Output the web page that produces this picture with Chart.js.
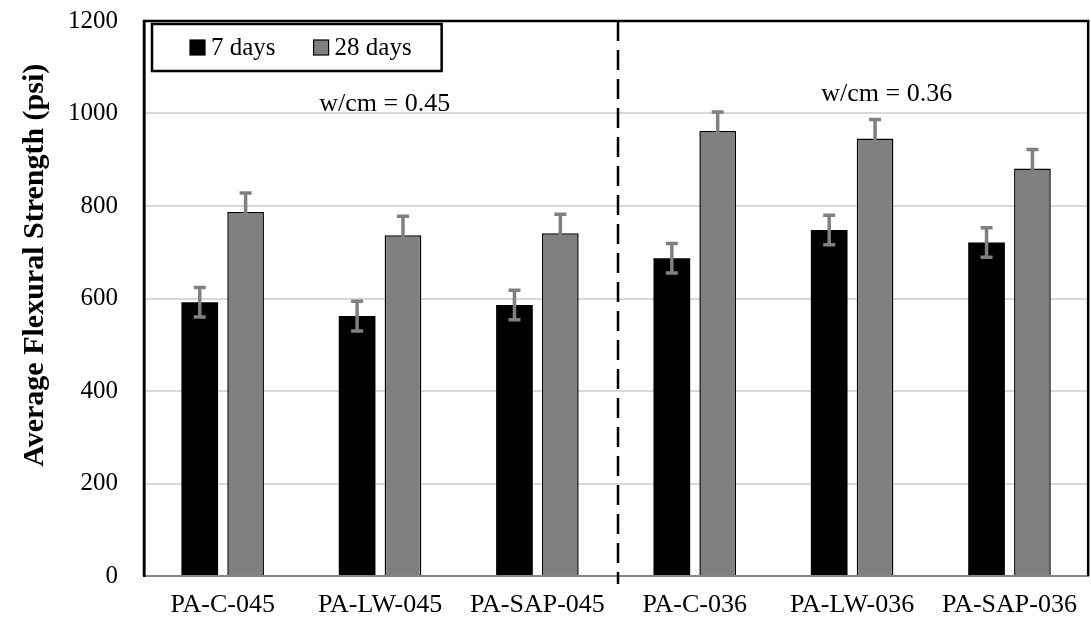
<!DOCTYPE html>
<html>
<head>
<meta charset="utf-8">
<script src="https://cdn.jsdelivr.net/npm/chart.js@4.4.1/dist/chart.umd.min.js"></script>
<style>
  html, body { margin: 0; padding: 0; background: #ffffff; }
  #wrap { width: 1091px; height: 622px; }
</style>
</head>
<body>
<div id="wrap"><canvas id="c" width="1091" height="622"></canvas></div>
<script>
// Mix designs and their flexural strength results (psi)
const categories = ['PA-C-045', 'PA-LW-045', 'PA-SAP-045', 'PA-C-036', 'PA-LW-036', 'PA-SAP-036'];
const days7 = [592, 562, 586, 687, 748, 721];
const days28 = [787, 737, 741, 962, 946, 881];
const err7 = [32, 32, 32, 32, 32, 32];
const err28 = [41, 41, 41, 41, 41, 41];
const seriesLabels = ['7 days', '28 days'];
const yTickValues = [0, 200, 400, 600, 800, 1000, 1200];
const yAxisTitle = 'Average Flexural Strength (psi)';

// Group notes, placed in data units (category index, psi)
const groupNotes = [
  { text: 'w/cm = 0.45', x: 1.03, y: 1020 },
  { text: 'w/cm = 0.36', x: 4.22, y: 1041 }
];
// Divider between the two w/cm groups (category index)
const dividerAt = 2.515;

const FONT = "'Liberation Serif', 'Times New Roman', serif";
const GRAY = '#808080';

// Black frame around the plot area (top, left, right)
const framePlugin = {
  id: 'frame',
  afterDraw(chart) {
    const { ctx, chartArea: a } = chart;
    ctx.save();
    ctx.strokeStyle = '#000';
    ctx.lineWidth = 2.5;
    ctx.beginPath();
    ctx.moveTo(a.left, a.bottom);
    ctx.lineTo(a.left, a.top);
    ctx.lineTo(a.right, a.top);
    ctx.lineTo(a.right, a.bottom);
    ctx.stroke();
    ctx.restore();
  }
};

// Rotated y-axis title, sitting a little above the plot's middle
const yTitlePlugin = {
  id: 'yTitle',
  afterDraw(chart) {
    const { ctx, chartArea: a } = chart;
    ctx.save();
    ctx.translate(35, a.top + (a.bottom - a.top) * 0.44);
    ctx.rotate(-Math.PI / 2);
    ctx.fillStyle = '#000';
    ctx.font = 'bold 30px ' + FONT;
    ctx.textAlign = 'center';
    ctx.textBaseline = 'middle';
    ctx.fillText(yAxisTitle, 0, 0);
    ctx.restore();
  }
};

// Error bars for each dataset
const errorBarPlugin = {
  id: 'errorBars',
  afterDatasetsDraw(chart) {
    const { ctx } = chart;
    const y = chart.scales.y;
    const errs = [err7, err28];
    ctx.save();
    ctx.strokeStyle = GRAY;
    ctx.lineWidth = 3.5;
    chart.data.datasets.forEach((ds, di) => {
      const meta = chart.getDatasetMeta(di);
      meta.data.forEach((bar, i) => {
        const v = ds.data[i];
        const e = errs[di][i];
        const x = bar.x;
        const yt = y.getPixelForValue(v + e);
        const yb = y.getPixelForValue(v - e);
        ctx.beginPath();
        ctx.moveTo(x, yt); ctx.lineTo(x, yb);
        ctx.moveTo(x - 6, yt); ctx.lineTo(x + 6, yt);
        ctx.moveTo(x - 6, yb); ctx.lineTo(x + 6, yb);
        ctx.stroke();
      });
    });
    ctx.restore();
  }
};

// Dashed divider and group notes
const notesPlugin = {
  id: 'notes',
  afterDatasetsDraw(chart) {
    const { ctx, chartArea: a } = chart;
    const xs = chart.scales.x, ys = chart.scales.y;
    ctx.save();
    const dx = Math.round(xs.getPixelForValue(dividerAt));
    ctx.strokeStyle = '#000';
    ctx.lineWidth = 2.5;
    ctx.setLineDash([20, 9]);
    ctx.beginPath();
    ctx.moveTo(dx, a.top);
    ctx.lineTo(dx, a.bottom + 8);
    ctx.stroke();
    ctx.setLineDash([]);
    ctx.fillStyle = '#000';
    ctx.font = '26px ' + FONT;
    ctx.textAlign = 'center';
    ctx.textBaseline = 'middle';
    groupNotes.forEach(n => {
      ctx.fillText(n.text, xs.getPixelForValue(n.x), ys.getPixelForValue(n.y));
    });
    ctx.restore();
  }
};

// Boxed legend inside the top-left of the plot area
const boxLegendPlugin = {
  id: 'boxLegend',
  afterDraw(chart) {
    const { ctx, chartArea: a } = chart;
    ctx.save();
    ctx.font = '25px ' + FONT;
    const left = a.left + 8, top = a.top + 3, h = 47;
    const sq = 15, gapSq = 6, itemGap = 38, padL = 38, padR = 30;
    let w = padL + padR;
    const widths = chart.data.datasets.map(d => ctx.measureText(d.label).width);
    widths.forEach((tw, i) => { w += sq + gapSq + tw + (i ? itemGap : 0); });
    ctx.fillStyle = '#fff';
    ctx.fillRect(left, top, w, h);
    ctx.strokeStyle = '#000';
    ctx.lineWidth = 2.5;
    ctx.strokeRect(left, top, w, h);
    let x = left + padL;
    const cy = top + h / 2;
    chart.data.datasets.forEach((d, i) => {
      ctx.fillStyle = d.backgroundColor;
      ctx.fillRect(x, cy - sq / 2, sq, sq);
      ctx.strokeStyle = '#000';
      ctx.lineWidth = 1.2;
      ctx.strokeRect(x, cy - sq / 2, sq, sq);
      ctx.fillStyle = '#000';
      ctx.textAlign = 'left';
      ctx.textBaseline = 'middle';
      ctx.fillText(d.label, x + sq + gapSq, cy + 1);
      x += sq + gapSq + widths[i] + itemGap;
    });
    ctx.restore();
  }
};

new Chart(document.getElementById('c'), {
  type: 'bar',
  data: {
    labels: categories,
    datasets: [
      {
        label: seriesLabels[0],
        data: days7,
        backgroundColor: '#000000',
        borderWidth: 0,
        categoryPercentage: 0.583,
        barPercentage: 0.8
      },
      {
        label: seriesLabels[1],
        data: days28,
        backgroundColor: GRAY,
        borderColor: '#000000',
        borderWidth: 1.5,
        categoryPercentage: 0.583,
        barPercentage: 0.8
      }
    ]
  },
  options: {
    responsive: false,
    animation: false,
    devicePixelRatio: 1,
    layout: { padding: { top: 21, right: 1, left: 0, bottom: 0 } },
    plugins: {
      legend: { display: false },
      tooltip: { enabled: false },
      title: { display: false }
    },
    scales: {
      x: {
        grid: { display: false, drawTicks: false },
        border: { display: true, color: '#868686', width: 2 },
        ticks: {
          color: '#000',
          font: { family: FONT, size: 26 },
          padding: 14,
          maxRotation: 0,
          autoSkip: false
        },
        afterFit(scale) { scale.height = 46; }
      },
      y: {
        min: 0,
        max: 1200,
        afterBuildTicks(scale) { scale.ticks = yTickValues.map(v => ({ value: v })); },
        grid: { color: '#d9d9d9', lineWidth: 2, drawTicks: false },
        border: { display: true, color: '#000', width: 2.5 },
        ticks: {
          color: '#000',
          font: { family: FONT, size: 25 },
          padding: 26,
          callback: v => String(v)
        },
        title: { display: false },
        afterFit(scale) {
          scale.width = 144;
          scale.paddingTop = 0;
          scale.paddingBottom = 0;
        }
      }
    }
  },
  plugins: [framePlugin, yTitlePlugin, errorBarPlugin, notesPlugin, boxLegendPlugin]
});
</script>
</body>
</html>
